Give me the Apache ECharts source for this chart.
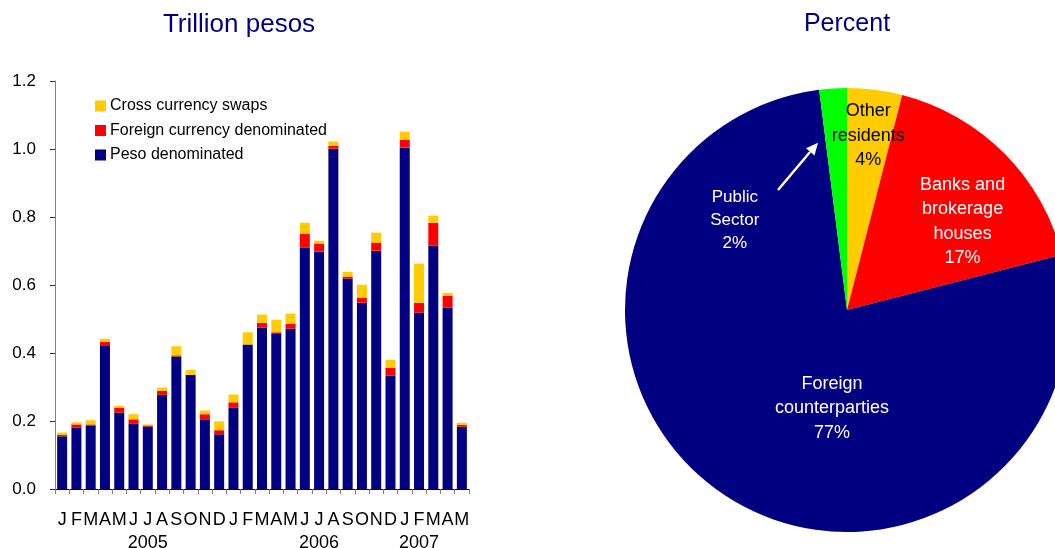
<!DOCTYPE html>
<html>
<head>
<meta charset="utf-8">
<script src="https://cdn.jsdelivr.net/npm/echarts@6/dist/echarts.min.js"></script>
<style>
    html, body { margin: 0; padding: 0; background: #fff; }
    #main { width: 1055px; height: 548px; }
</style>
</head>
<body>
<div id="main"></div>
<script>
    // 月份 Jan 2005 - May 2007
    var months = ['J','F','M','A','M','J','J','A','S','O','N','D',
                  'J','F','M','A','M','J','J','A','S','O','N','D',
                  'J','F','M','A','M'];
    var yearLabels = {6: '2005', 18: '2006', 25: '2007'};

    var pesoDenominated = [0.155, 0.181, 0.187, 0.423, 0.225, 0.193, 0.184, 0.277, 0.390, 0.335, 0.205, 0.161,
                           0.240, 0.425, 0.475, 0.458, 0.472, 0.710, 0.698, 1.001, 0.619, 0.548, 0.701, 0.333,
                           1.004, 0.519, 0.716, 0.533, 0.183];
    var foreignCurrency = [0.004, 0.009, 0.003, 0.010, 0.014, 0.012, 0.003, 0.012, 0.003, 0.001, 0.015, 0.012,
                           0.015, 0.000, 0.014, 0.003, 0.014, 0.041, 0.024, 0.009, 0.006, 0.015, 0.024, 0.024,
                           0.023, 0.029, 0.067, 0.036, 0.006];
    var crossSwaps = [0.007, 0.006, 0.012, 0.009, 0.006, 0.015, 0.003, 0.009, 0.027, 0.014, 0.011, 0.026,
                      0.023, 0.036, 0.024, 0.037, 0.030, 0.032, 0.008, 0.012, 0.014, 0.038, 0.029, 0.023,
                      0.024, 0.115, 0.021, 0.008, 0.006];

    var pieNames = ['Other\nresidents', 'Banks and\nbrokerage\nhouses', 'Foreign\ncounterparties', 'Public\nSector'];
    var pieValues = [4, 17, 77, 2];

    var NAVY = '#000080', RED = '#ff0000', YELLOW = '#ffcc00', GREEN = '#00ff00';
    var FONT = '"Liberation Sans", Arial, sans-serif';

    // pie label shifts (from the default inside spot)
    var pieLabelShift = [[7, -61], [35, -8], [49, 4], [-105, 24]];

    var myChart = echarts.init(document.getElementById('main'));

    var option = {
        animation: false,
        textStyle: { fontFamily: FONT },
        title: [
            { text: 'Trillion pesos', left: 239, top: 12, padding: 0, textAlign: 'center',
              textStyle: { color: NAVY, fontSize: 26, fontWeight: 'normal', fontFamily: FONT } },
            { text: 'Percent', left: 847, top: 12, padding: 0, textAlign: 'center',
              textStyle: { color: NAVY, fontSize: 25, fontWeight: 'normal', fontFamily: FONT } }
        ],
        legend: {
            orient: 'vertical',
            left: 95,
            top: 98,
            padding: 0,
            itemWidth: 11,
            itemHeight: 11,
            itemGap: 8.5,
            icon: 'rect',
            data: ['Cross currency swaps', 'Foreign currency denominated', 'Peso denominated'],
            textStyle: { fontSize: 16, color: '#000', fontFamily: FONT, padding: [0, 0, 0, -1] }
        },
        grid: { left: 55, right: 586, top: 81, bottom: 59, outerBoundsMode: 'none' },
        xAxis: {
            type: 'category',
            data: months,
            axisLine: { lineStyle: { color: '#000', width: 1 } },
            axisTick: { show: true, length: 5, lineStyle: { color: '#808080' } },
            axisLabel: {
                interval: 0,
                margin: 20,
                color: '#000',
                fontSize: 18,
                lineHeight: 23,
                fontFamily: FONT,
                formatter: function (val, idx) {
                    return val + '\n' + (yearLabels[idx] || ' ');
                }
            }
        },
        yAxis: {
            type: 'value',
            min: 0,
            max: 1.2,
            interval: 0.2,
            splitLine: { show: false },
            axisLine: { show: true, lineStyle: { color: '#808080' } },
            axisTick: { show: true, length: 5, lineStyle: { color: '#333' } },
            axisLabel: {
                margin: 19,
                color: '#000',
                fontSize: 17,
                fontFamily: FONT,
                formatter: function (v) { return v.toFixed(1); }
            }
        },
        series: [
            { name: 'Peso denominated', type: 'bar', stack: 'total', barCategoryGap: '30%',
              itemStyle: { color: NAVY }, data: pesoDenominated },
            { name: 'Foreign currency denominated', type: 'bar', stack: 'total',
              itemStyle: { color: RED }, data: foreignCurrency },
            { name: 'Cross currency swaps', type: 'bar', stack: 'total',
              itemStyle: { color: YELLOW }, data: crossSwaps },
            {
                name: 'Percent',
                type: 'pie',
                center: [847, 310],
                radius: 222,
                startAngle: 90,
                clockwise: true,
                avoidLabelOverlap: false,
                silent: true,
                itemStyle: { borderWidth: 0 },
                label: {
                    show: true,
                    position: 'inside',
                    fontSize: 18,
                    lineHeight: 24.5,
                    color: '#fff',
                    fontFamily: FONT,
                    formatter: function (p) { return p.name + '\n' + p.value + '%'; }
                },
                labelLine: { show: false },
                labelLayout: function (params) {
                    var s = pieLabelShift[params.dataIndex];
                    return { dx: s[0], dy: s[1] };
                },
                data: pieNames.map(function (n, i) {
                    var d = { name: n, value: pieValues[i] };
                    d.itemStyle = { color: [YELLOW, RED, NAVY, GREEN][i] };
                    if (i === 0) d.label = { color: '#000' };
                    if (i === 3) d.label = { fontSize: 17, lineHeight: 23 };
                    return d;
                })
            }
        ],
        graphic: [
            // arrow pointing at the public sector slice
            { type: 'line', shape: { x1: 778, y1: 190, x2: 810, y2: 152 },
              style: { stroke: '#fff', lineWidth: 2.5 }, silent: true, z: 100 },
            { type: 'polygon', shape: { points: [[818, 142.7], [814.5, 155.5], [806, 148.3]] },
              style: { fill: '#fff' }, silent: true, z: 100 }
        ]
    };

    myChart.setOption(option);
</script>
</body>
</html>
